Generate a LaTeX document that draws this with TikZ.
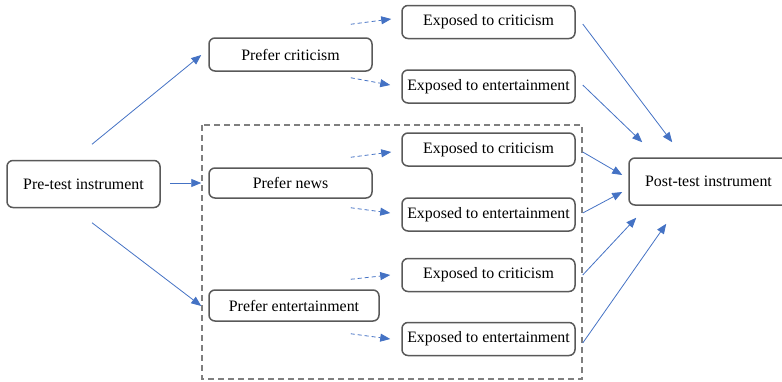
\documentclass[tikz,border=0pt]{standalone}
\usepackage{fontspec}
\setmainfont{Liberation Serif}
\usetikzlibrary{arrows.meta,calc}
\definecolor{arrblue}{HTML}{4472C4}
\definecolor{boxgray}{HTML}{595959}
\definecolor{dashgray}{HTML}{7F7F7F}
\tikzset{
  box/.style={draw=boxgray, line width=1.5pt, rounded corners=6pt, inner sep=0pt,
    font=\fontsize{15.9}{19}\selectfont, text=black},
  arr/.style={draw=arrblue, line width=0.8pt, -{Triangle[length=10pt,width=8pt]}},
  darr/.style={arr, dash pattern=on 4pt off 3pt},
  groupbox/.style={draw=dashgray, line width=1.4pt, dash pattern=on 6pt off 4pt}
}
\begin{document}
\begin{tikzpicture}[x=1pt,y=-1pt]
\useasboundingbox (0,0) rectangle (782,381);
% group box
\draw[groupbox] (202,125) rectangle (582,379);
% nodes
\node[box, minimum width=153pt, minimum height=47pt] (pre) at (83.5,184) {Pre-test instrument};
\node[box, minimum width=163pt, minimum height=33pt] (pc) at (290.5,54.5) {Prefer criticism};
\node[box, minimum width=163pt, minimum height=30pt] (pn) at (290.5,183) {Prefer news};
\node[box, minimum width=170pt, minimum height=31pt] (pe) at (294,305.5) {Prefer entertainment};
\node[box, minimum width=173pt, minimum height=33pt] (e1) at (488.5,22) {Exposed to criticism};
\node[box, minimum width=173pt, minimum height=33pt] (e2) at (488.5,86.5) {Exposed to entertainment};
\node[box, minimum width=173pt, minimum height=33pt] (e3) at (488.5,149.5) {Exposed to criticism};
\node[box, minimum width=173pt, minimum height=33pt] (e4) at (488.5,214.5) {Exposed to entertainment};
\node[box, minimum width=173pt, minimum height=33pt] (e5) at (488.5,275) {Exposed to criticism};
\node[box, minimum width=173pt, minimum height=33pt] (e6) at (488.5,339) {Exposed to entertainment};
\node[box, minimum width=179pt, minimum height=47pt] (post) at (718.5,181.5) {Post-test instrument\hspace*{20pt}};
% pre-test to preferences
\draw[arr] ($(pre.north)+(8.5,-15.5)$) -- ($(pc.west)+(-7,0.5)$);
\draw[arr] ($(pre.east)+(9,-1)$) -- ($(pn.west)+(-7,0)$);
\draw[arr] ($(pre.south)+(8.5,14.5)$) -- ($(pe.west)+(-7,0.5)$);
% preferences to exposure (dashed)
\draw[darr] ($(pc.north east)+(-22,-13)$) -- ($(e1.west)+(-10,-3)$);
\draw[darr] ($(pc.south east)+(-22,6)$) -- ($(e2.west)+(-11,-1.5)$);
\draw[darr] ($(pn.north east)+(-22,-10)$) -- ($(e3.west)+(-10,2.5)$);
\draw[darr] ($(pn.south east)+(-22,9)$) -- ($(e4.west)+(-11,-1.5)$);
\draw[darr] ($(pe.north east)+(-29,-10)$) -- ($(e5.west)+(-11,0)$);
\draw[darr] ($(pe.south east)+(-29,12)$) -- ($(e6.west)+(-11,0)$);
% exposure to post-test
\draw[arr] ($(e1.east)+(7,2)$) -- ($(post.north west)+(44,-15)$);
\draw[arr] ($(e2.east)+(7,-1.5)$) -- ($(post.north west)+(14,-15)$);
\draw[arr] ($(e3.east)+(7,2.5)$) -- ($(post.west)+(-6,-6.5)$);
\draw[arr] ($(e4.east)+(7,-1.5)$) -- ($(post.west)+(-6,10.5)$);
\draw[arr] ($(e5.east)+(7,0)$) -- ($(post.south west)+(8,12)$);
\draw[arr] ($(e6.east)+(7,4)$) -- ($(post.south west)+(38,18)$);
\end{tikzpicture}
\end{document}
